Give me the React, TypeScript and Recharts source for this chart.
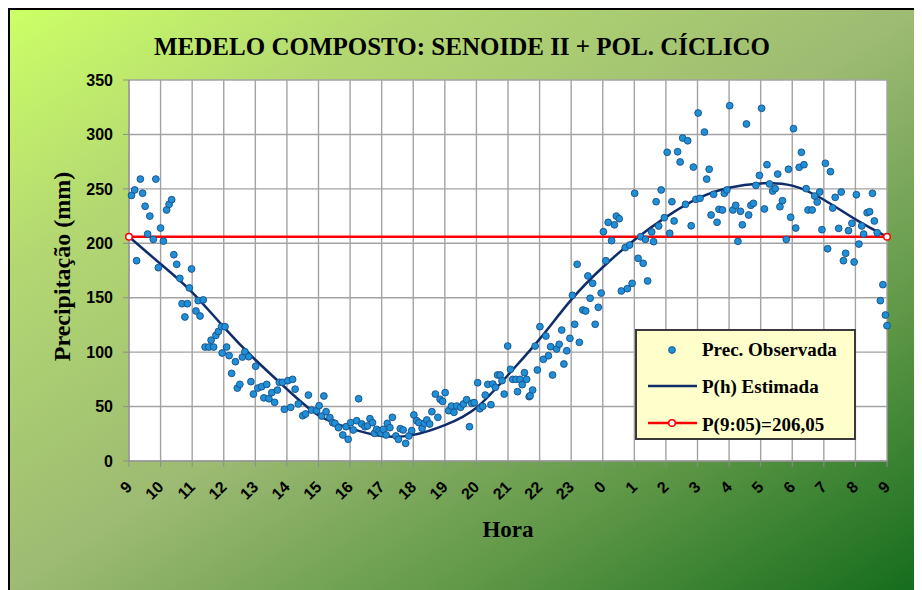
import React from 'react';
import { ComposedChart, Scatter, Line, XAxis, YAxis, CartesianGrid, Legend, Label } from 'recharts';

// ---- axis ticks ----
const hourTicks = [0, 1, 2, 3, 4, 5, 6, 7, 8, 9, 10, 11, 12, 13, 14, 15, 16, 17, 18, 19, 20, 21, 22, 23, 24];
const hourLabels = ['9', '10', '11', '12', '13', '14', '15', '16', '17', '18', '19', '20', '21', '22', '23', '0', '1', '2', '3', '4', '5', '6', '7', '8', '9'];
const yTicks = [0, 50, 100, 150, 200, 250, 300, 350];

// ---- estimated curve P(h) (hours after 9:00) ----
const estHours = [0, 1, 2, 3, 4, 5, 6, 7, 8, 9, 10, 11, 12, 13, 14, 15, 16, 17, 18, 19, 20, 21, 22, 23, 24];
const estValues = [206, 181, 155, 123, 93, 66, 42, 30, 23, 24, 33, 49, 79, 112, 148, 178, 203, 224, 241, 251, 255, 253, 240, 222, 206];

// ---- reference level P(9:05) ----
const refHours = [0, 24];
const refValue = 206.05;

// ---- observed precipitation [hours after 9:00, mm] ----
const obsMorning: [number, number][] = [
  [0.08, 244], [0.18, 249], [0.24, 184], [0.36, 259], [0.43, 246], [0.51, 234], [0.59, 208.5], [0.66, 225],
  [0.77, 203.6], [0.85, 259], [0.93, 177.6], [1.0, 214], [1.09, 202], [1.19, 230.6], [1.27, 235.8], [1.35, 240],
  [1.42, 189.5], [1.51, 180.7], [1.61, 167.8], [1.68, 144.5], [1.77, 132.3], [1.85, 144.5], [1.91, 159], [1.98, 176.4],
  [2.12, 137.8], [2.19, 147.3], [2.25, 133.2], [2.35, 148], [2.41, 104.7], [2.53, 104.7], [2.6, 111], [2.68, 104.7],
  [2.75, 115.4], [2.83, 119], [2.93, 123.4], [2.95, 99.2], [3.04, 123.4], [3.09, 104.7], [3.17, 96.8], [3.25, 80.5],
  [3.37, 91.2], [3.43, 67], [3.51, 70.4], [3.59, 95.5], [3.67, 100.4], [3.79, 95.8], [3.86, 72.9], [3.94, 61.5],
  [4.01, 87], [4.08, 67], [4.2, 68.3], [4.27, 58], [4.36, 70.4], [4.43, 57.2], [4.52, 62.8], [4.61, 53.9],
  [4.7, 65.2], [4.76, 72.3], [4.86, 72.3], [4.92, 47.5], [5.03, 73.8], [5.12, 49.3], [5.18, 75], [5.26, 66],
  [5.36, 52.4], [5.5, 41.6], [5.59, 43.2], [5.68, 60.6], [5.78, 46.8], [5.94, 46.2], [6.02, 50.8],
];
const obsAfternoon: [number, number][] = [
  [6.1, 41.3], [6.17, 59.7], [6.24, 45.3], [6.36, 39.8], [6.45, 35.2], [6.52, 34.6], [6.63, 30.6], [6.77, 23.9],
  [6.87, 31.5], [6.94, 19.9], [7.02, 35.2], [7.1, 28.5], [7.21, 37], [7.27, 57.2], [7.37, 34], [7.47, 31.5],
  [7.55, 32.2], [7.63, 38.9], [7.71, 35.2], [7.77, 25.4], [7.84, 29.1], [7.92, 27.6], [7.98, 25.4], [8.05, 29.1],
  [8.14, 23.9], [8.18, 34.6], [8.26, 30.6], [8.34, 40.1], [8.45, 23], [8.53, 19.9], [8.59, 29.7], [8.68, 28.5],
  [8.76, 16.2], [8.86, 23], [8.95, 27.9], [9.02, 42.3], [9.11, 37], [9.18, 35.2], [9.28, 30], [9.35, 34.6],
  [9.43, 37.7], [9.52, 34], [9.59, 45.3], [9.7, 61.5], [9.78, 40.1], [9.85, 56.7], [9.93, 54.8], [10.01, 62.8],
  [10.12, 46.2], [10.21, 50.5], [10.29, 44.7], [10.38, 50.5], [10.5, 49.3], [10.59, 52.4], [10.69, 56.3], [10.78, 31.5],
  [10.85, 53], [10.93, 53.6], [11.04, 71.9], [11.11, 48], [11.2, 50.2], [11.28, 60.6], [11.36, 70.4], [11.46, 51.7],
  [11.52, 70.7], [11.6, 67.7], [11.67, 79], [11.75, 79], [11.81, 73.8], [11.88, 61.5], [11.99, 105.6], [12.08, 84.2],
  [12.15, 75], [12.25, 75], [12.3, 63.7], [12.38, 75], [12.45, 70.1], [12.52, 81.1], [12.59, 75], [12.67, 59.1],
];
const obsNight: [number, number][] = [
  [12.7, 60], [12.78, 65.2], [12.86, 105.6], [12.93, 83.6], [13.01, 123.4], [13.12, 93.4], [13.2, 114.8], [13.28, 96.7],
  [13.35, 105], [13.41, 79], [13.54, 102.9], [13.62, 107.2], [13.7, 120.3], [13.77, 89.1], [13.86, 101.3], [13.96, 112.7],
  [14.04, 152.2], [14.11, 125.6], [14.19, 180.7], [14.26, 109], [14.37, 138.7], [14.46, 137.8], [14.53, 170], [14.6, 149.5],
  [14.68, 163.2], [14.76, 125.6], [14.86, 141.2], [14.95, 154.3], [15.02, 210.6], [15.1, 184], [15.17, 219.2], [15.28, 202.4],
  [15.37, 217], [15.43, 225], [15.52, 222.6], [15.59, 156.2], [15.71, 196], [15.78, 158.3], [15.85, 198.4], [15.93, 163.2],
  [16.01, 245.9], [16.12, 186.2], [16.2, 206], [16.28, 181.6], [16.35, 203.6], [16.42, 165.4], [16.55, 210.4], [16.61, 201.5],
  [16.69, 238.2], [16.77, 215.9], [16.85, 249], [16.95, 223.5], [17.04, 283.6], [17.12, 209.2], [17.19, 238.2], [17.26, 220.5],
  [17.37, 284.1], [17.45, 274.7], [17.53, 296.7], [17.62, 235.8], [17.69, 294.2], [17.8, 216.1], [17.87, 270], [17.95, 240.4],
  [18.02, 319.7], [18.08, 241.3], [18.22, 302.2], [18.29, 259], [18.37, 268], [18.43, 226], [18.51, 245], [18.62, 219.3],
  [18.68, 231.2],
];
const obsDawn: [number, number][] = [
  [18.79, 230.6], [18.85, 245.9], [18.93, 249], [19.02, 326.4], [19.12, 230.6], [19.21, 234.9], [19.28, 201.8], [19.36, 229.4],
  [19.42, 217], [19.55, 309.6], [19.62, 226], [19.69, 234.9], [19.77, 236.7], [19.85, 253.2], [19.96, 262.4], [20.03, 324],
  [20.12, 231.5], [20.2, 272.2], [20.28, 254.5], [20.38, 248], [20.46, 250.2], [20.54, 263.6], [20.61, 233.6], [20.69, 239.1],
  [20.81, 203.6], [20.88, 268], [20.95, 223.9], [21.04, 305.3], [21.11, 214], [21.22, 269.8], [21.29, 283.6], [21.37, 272.2],
  [21.44, 250.2], [21.5, 230.6], [21.63, 230.6], [21.71, 243.4], [21.79, 237.9], [21.87, 247.1], [21.94, 212.5], [22.05, 273.5],
  [22.12, 195], [22.21, 265.8], [22.28, 232.4], [22.36, 242.2], [22.47, 213.7], [22.55, 247.1], [22.62, 184], [22.69, 190.8],
  [22.78, 211.6], [22.89, 218.3], [22.96, 182.8], [23.03, 244.6], [23.11, 199.3], [23.2, 215.9], [23.26, 208.5], [23.37, 228.1],
  [23.45, 229], [23.54, 245.9], [23.6, 220.5], [23.69, 209.7], [23.79, 147.3], [23.87, 162], [23.95, 134.1], [24.0, 124.3],
];

const observed = [...obsMorning, ...obsAfternoon, ...obsNight, ...obsDawn].map(([h, v]) => ({ h, v }));
const estimated = estHours.map((h, i) => ({ h, v: estValues[i] }));
const reference = refHours.map((h) => ({ h, v: refValue }));

const SERIF = '"Liberation Serif", "Times New Roman", serif';
const SANS = '"Liberation Sans", Arial, sans-serif';

const DotShape = (props: any) => {
  const { cx, cy } = props;
  if (cx == null || cy == null) return null;
  return <circle cx={cx} cy={cy} r={3.4} fill="#1f90d8" stroke="#174e86" strokeWidth={0.9} />;
};

const XTick = (props: any) => {
  const { x, y, payload } = props;
  const idx = hourTicks.indexOf(payload.value);
  return (
    <g transform={`translate(${x + 4},${y + 19})`}>
      <text transform="rotate(-45)" textAnchor="end" fontSize={16} fontWeight="bold" fontFamily={SANS} fill="#000">
        {hourLabels[idx]}
      </text>
    </g>
  );
};

const XLabel = (props: any) => {
  const vb = props.viewBox;
  return (
    <text x={vb.x + vb.width / 2} y={vb.y + 76} textAnchor="middle" fontSize={23} fontWeight="bold" fontFamily={SERIF} fill="#000">
      Hora
    </text>
  );
};

const YLabel = (props: any) => {
  const vb = props.viewBox;
  const x = vb.x + 1;
  const y = vb.y + vb.height / 2 - 4;
  return (
    <text x={x} y={y} transform={`rotate(-90 ${x} ${y})`} textAnchor="middle" fontSize={24} fontWeight="bold" fontFamily={SERIF} fill="#000">
      Precipitação (mm)
    </text>
  );
};

const LegendBox = () => (
  <div style={{ width: 221, height: 111, boxSizing: 'border-box', background: '#ffffcc', border: '2px solid #3a3a3a' }}>
    <svg width={217} height={107} style={{ display: 'block' }}>
      <circle cx={35} cy={19} r={3.4} fill="#1f90d8" stroke="#174e86" strokeWidth={0.9} />
      <text x={65} y={25} fontSize={19} fontWeight="bold" fontFamily={SERIF} fill="#000">Prec. Observada</text>
      <line x1={11} x2={60} y1={55} y2={55} stroke="#0f2c6b" strokeWidth={2.5} />
      <text x={65} y={62} fontSize={19} fontWeight="bold" fontFamily={SERIF} fill="#000">P(h) Estimada</text>
      <line x1={11} x2={60} y1={92} y2={92} stroke="#ff0000" strokeWidth={2.5} />
      <circle cx={35} cy={92} r={3.3} fill="#fff" stroke="#ff0000" strokeWidth={1.5} />
      <text x={65} y={100} fontSize={19} fontWeight="bold" fontFamily={SERIF} fill="#000">P(9:05)=206,05</text>
    </svg>
  </div>
);

export default function App() {
  return (
    <div
      style={{
        position: 'relative',
        width: 914,
        height: 582,
        boxSizing: 'border-box',
        borderLeft: '2px solid #000',
        borderTop: '2px solid #000',
        background: 'linear-gradient(to bottom right, #ccff66 0%, #b3d872 22%, #9dbb72 50%, #5f9847 75%, #146c1c 100%)',
        overflow: 'hidden',
      }}
    >
      <style>{'html,body{overflow:hidden}'}</style>
      <div
        style={{
          position: 'absolute',
          left: 0,
          top: 24,
          width: 904,
          textAlign: 'center',
          fontFamily: SERIF,
          fontWeight: 'bold',
          fontSize: 25,
          lineHeight: '25px',
          color: '#000',
          zIndex: 2,
        }}
      >
        MEDELO COMPOSTO: SENOIDE II + POL. CÍCLICO
      </div>
      <ComposedChart width={912} height={580} margin={{ top: 70, right: 35, left: 59, bottom: 39 }}>
        <CartesianGrid stroke="#a3a3a3" strokeWidth={1.4} fill="#ffffff" />
        <XAxis
          dataKey="h"
          type="number"
          domain={[0, 24]}
          ticks={hourTicks}
          interval={0}
          height={90}
          tickSize={6}
          stroke="#8c8c8c"
          tick={<XTick />}
        >
          <Label content={<XLabel />} />
        </XAxis>
        <YAxis
          dataKey="v"
          type="number"
          domain={[0, 350]}
          ticks={yTicks}
          interval={0}
          width={60}
          tickSize={6}
          tickMargin={10}
          stroke="#8c8c8c"
          tick={{ fontSize: 16, fontWeight: 'bold', fill: '#000', fontFamily: SANS }}
        >
          <Label content={<YLabel />} />
        </YAxis>
        <Scatter data={observed} dataKey="v" shape={<DotShape />} isAnimationActive={false} />
        <Line data={estimated} dataKey="v" type="natural" stroke="#0f2c6b" strokeWidth={2.5} dot={false} isAnimationActive={false} />
        <Line
          data={reference}
          dataKey="v"
          type="linear"
          stroke="#ff0000"
          strokeWidth={2.5}
          dot={{ r: 3.3, fill: '#fff', stroke: '#ff0000', strokeWidth: 1.5 }}
          isAnimationActive={false}
        />
        <Legend
          layout="vertical"
          verticalAlign="middle"
          align="center"
          wrapperStyle={{ left: 625, top: 319, width: 221, height: 111 }}
          content={() => <LegendBox />}
        />
      </ComposedChart>
    </div>
  );
}
